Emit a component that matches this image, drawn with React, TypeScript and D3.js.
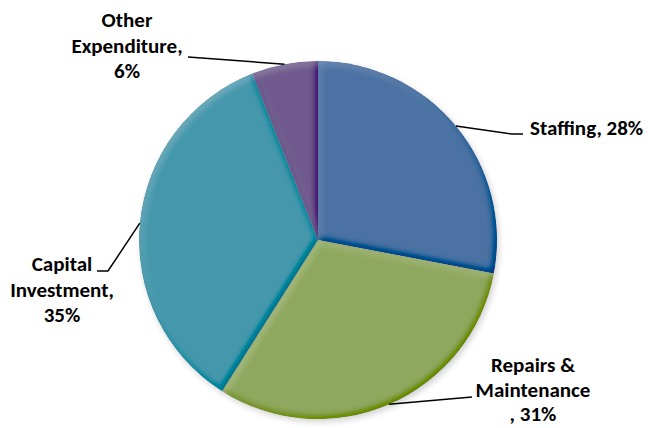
import { useEffect, useRef } from 'react';
import * as d3 from 'd3';

// chart data
const categories = ['Staffing', 'Repairs & Maintenance', 'Capital Investment', 'Other Expenditure'];
const values = [28, 31, 35, 6];
const colors = ['#4a72a3', '#8fa85e', '#4598ac', '#6f5a8d'];

// label text, one entry per category
const labelLines = [
  ['Staffing, 28%'],
  ['Repairs &', 'Maintenance', ', 31%'],
  ['Capital', 'Investment,', '35%'],
  ['Other', 'Expenditure,', '6%'],
];

const App = () => {
  const ref = useRef<SVGSVGElement>(null);

  useEffect(() => {
    if (!ref.current) return;
    const svg = d3.select(ref.current);
    svg.selectAll('*').remove();

    const width = 648;
    const height = 428;
    const cx = 318;
    const cy = 240;
    const r = 179;

    const defs = svg.append('defs');
    // soft bevel, light from top-left
    const f = defs.append('filter').attr('id', 'bevel')
      .attr('x', '-5%').attr('y', '-5%').attr('width', '110%').attr('height', '110%');
    f.append('feGaussianBlur').attr('in', 'SourceAlpha').attr('stdDeviation', 3.5).attr('result', 'blur');
    f.append('feDiffuseLighting').attr('in', 'blur').attr('surfaceScale', 3)
      .attr('diffuseConstant', 0.5 / Math.sin(Math.PI / 4)).attr('lighting-color', '#ffffff').attr('result', 'light')
      .append('feDistantLight').attr('azimuth', 235).attr('elevation', 45);
    f.append('feComposite').attr('in', 'SourceGraphic').attr('in2', 'light')
      .attr('operator', 'arithmetic').attr('k1', 0).attr('k2', 1).attr('k3', 0.4).attr('k4', -0.2).attr('result', 'lit');
    f.append('feComposite').attr('in', 'lit').attr('in2', 'SourceAlpha').attr('operator', 'in');

    const shadow = defs.append('filter').attr('id', 'shadow')
      .attr('x', '-10%').attr('y', '-10%').attr('width', '120%').attr('height', '120%');
    shadow.append('feGaussianBlur').attr('stdDeviation', 3);

    const pie = d3.pie<number>().sort(null).value(d => d);
    const arcs = pie(values);
    const arc = d3.arc<d3.PieArcDatum<number>>().innerRadius(0).outerRadius(r);
    const edge = d3.arc<d3.PieArcDatum<number>>().innerRadius(r).outerRadius(r);

    const g = svg.append('g').attr('transform', `translate(${cx},${cy})`);

    g.append('circle')
      .attr('cx', 2).attr('cy', 3).attr('r', r)
      .attr('fill', '#000').attr('opacity', 0.18)
      .attr('filter', 'url(#shadow)');

    g.selectAll('.slice')
      .data(arcs)
      .enter()
      .append('path')
      .attr('class', 'slice')
      .attr('d', arc)
      .attr('fill', (_, i) => colors[i])
      .attr('filter', 'url(#bevel)');

    // leader lines: start at the slice's mid-angle on the rim
    const leaderBends: [number, number][][] = [
      [[512, 134], [523, 134]],
      [[472, 397]],
      [[108, 271], [97, 271]],
      [[188, 57]],
    ];
    arcs.forEach((a, i) => {
      const [sx, sy] = edge.centroid(a);
      const pts: [number, number][] = [[sx + cx, sy + cy], ...leaderBends[i]];
      svg.append('path')
        .attr('d', d3.line()(pts))
        .attr('fill', 'none')
        .attr('stroke', '#000')
        .attr('stroke-width', 1.5);
    });

    const labelPos = [
      { x: 530, y: 135, anchor: 'start', gap: 25.5 },
      { x: 533, y: 372, anchor: 'middle', gap: 24.5 },
      { x: 62, y: 271, anchor: 'middle', gap: 25.5 },
      { x: 127, y: 27, anchor: 'middle', gap: 25.5 },
    ];
    labelLines.forEach((lines, i) => {
      const p = labelPos[i];
      const t = svg.append('text')
        .attr('text-anchor', p.anchor)
        .style('font-family', 'Calibri, Carlito, Lato, sans-serif')
        .style('font-weight', 'bold')
        .style('font-size', '21px')
        .attr('fill', '#000');
      lines.forEach((l, j) => {
        t.append('tspan').attr('x', p.x).attr('y', p.y + j * p.gap).text(l);
      });
    });

    svg.attr('width', width).attr('height', height);
  }, []);

  return (
    <div style={{ position: 'absolute', left: 0, top: 0 }}>
      <svg ref={ref} width={648} height={428} style={{ display: 'block', background: '#fff' }} />
    </div>
  );
};

export default App;
